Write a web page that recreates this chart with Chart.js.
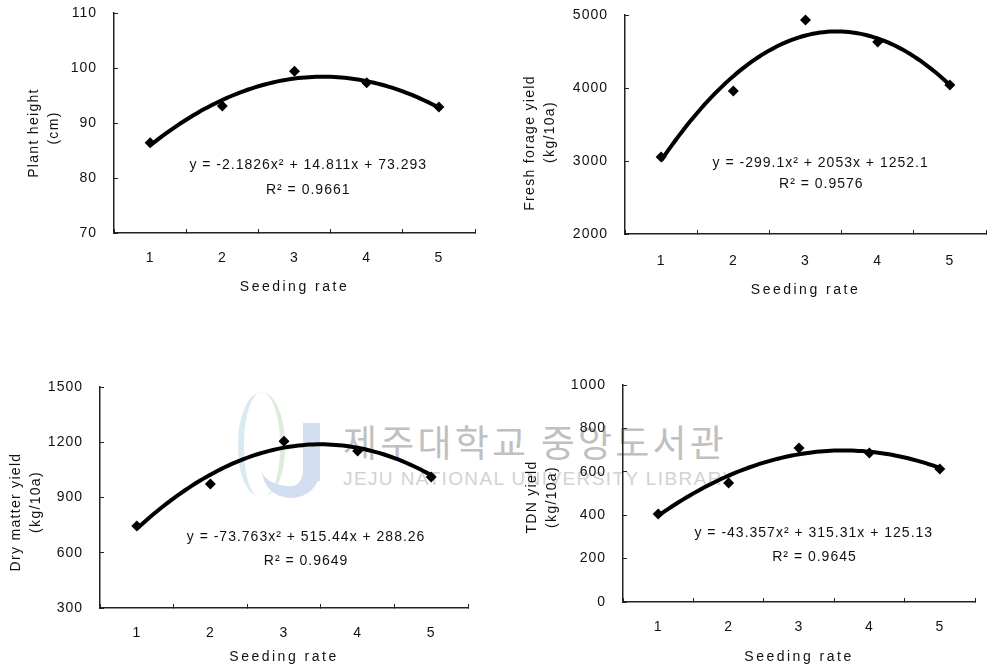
<!DOCTYPE html>
<html>
<head>
<meta charset="utf-8">
<script src="https://cdn.jsdelivr.net/npm/chart.js@4.4.0/dist/chart.umd.min.js"></script>
<style>
html,body{margin:0;padding:0;background:#fff;}
body{width:987px;height:670px;position:relative;overflow:hidden;font-family:"Liberation Sans",Arial,sans-serif;}
canvas.panel{position:absolute;}
.wm{position:absolute;white-space:nowrap;}
.logo{position:absolute;}
</style>
</head>
<body>
<div class="logo" style="left:238px;top:392px;width:36px;height:104px;border-radius:50% 50% 45% 45%;border-left:6px solid #d6e8f4;border-right:5px solid #dcebd9;opacity:0.9;"></div>
<div class="logo" style="left:303px;top:423px;width:17px;height:58px;background:#d3def0;"></div>
<div class="logo" style="left:262px;top:470px;width:58px;height:28px;border:0 solid #d3def0;border-width:0 17px 12px 0;border-radius:0 0 30px 30px;box-sizing:border-box;"></div>
<div class="wm" style="left:343px;top:423px;font-family:'Noto Sans CJK KR';font-size:37px;line-height:37px;letter-spacing:3.2px;color:#c0c0c0;">제주대학교 중앙도서관</div>
<div class="wm" style="left:343px;top:469px;font-family:'Liberation Sans';font-size:19px;line-height:19px;letter-spacing:1.4px;color:#d2d2d2;">JEJU NATIONAL UNIVERSITY LIBRARY</div>

<canvas id="c1" class="panel" width="490" height="300" style="left:0;top:0"></canvas>
<canvas id="c2" class="panel" width="506" height="300" style="left:490px;top:0"></canvas>
<canvas id="c3" class="panel" width="490" height="300" style="left:0;top:370px"></canvas>
<canvas id="c4" class="panel" width="497" height="300" style="left:490px;top:370px"></canvas>

<script>
// ---- data ----
const seedingRate = [1, 2, 3, 4, 5];
const xTickLabels = ['1', '2', '3', '4', '5'];

const plantHeight      = [86.4, 93.1, 99.4, 97.3, 92.9];
const freshForageYield = [3055, 3959, 4932, 4630, 4041];
const dryMatterYield   = [745, 973, 1206, 1152, 1011];
const tdnYield         = [405, 548, 710, 687, 613];

// quadratic trend-line coefficients shown on the chart [a, b, c] for y = ax² + bx + c
const plantHeightCoef = [-2.1826, 14.811, 73.293];
const freshForageCoef = [-299.1, 2053, 1252.1];
const dryMatterCoef   = [-73.763, 515.44, 288.26];
const tdnCoef         = [-43.357, 315.31, 125.13];

const plantHeightTicks = [70, 80, 90, 100, 110];
const freshForageTicks = [2000, 3000, 4000, 5000];
const dryMatterTicks   = [300, 600, 900, 1200, 1500];
const tdnTicks         = [0, 200, 400, 600, 800, 1000];

const plantHeightEq = ['y = -2.1826x² + 14.811x + 73.293', 'R² = 0.9661'];
const freshForageEq = ['y = -299.1x² + 2053x + 1252.1', 'R² = 0.9576'];
const dryMatterEq   = ['y = -73.763x² + 515.44x + 288.26', 'R² = 0.9649'];
const tdnEq         = ['y = -43.357x² + 315.31x + 125.13', 'R² = 0.9645'];

const xTitle = 'Seeding rate';

// ---- panels (layout) ----
const panels = [
  { id: 'c1', w: 490, h: 300, area: {l: 114, r: 475, t: 13, b: 233}, bottomPad: 3, xLabelPad: 20.6,
    values: plantHeight, coef: plantHeightCoef, ticks: plantHeightTicks, eq: plantHeightEq,
    eqPos: [[3.19, 82.4], [3.19, 77.8]],
    yTitle: [{text: 'Plant height', x: 34, y: 133}, {text: '(cm)', x: 54, y: 128}] },
  { id: 'c2', w: 506, h: 300, area: {l: 135, r: 496, t: 15, b: 234}, bottomPad: 0, xLabelPad: 22.6,
    values: freshForageYield, coef: freshForageCoef, ticks: freshForageTicks, eq: freshForageEq,
    eqPos: [[3.21, 2973], [3.22, 2685]],
    yTitle: [{text: 'Fresh forage yield', x: 40, y: 143}, {text: '(kg/10a)', x: 60, y: 132}] },
  { id: 'c3', w: 490, h: 300, area: {l: 100, r: 468, t: 17, b: 238}, bottomPad: 3, xLabelPad: 20.6,
    values: dryMatterYield, coef: dryMatterCoef, ticks: dryMatterTicks, eq: dryMatterEq,
    eqPos: [[3.3, 685], [3.3, 555]],
    yTitle: [{text: 'Dry matter yield', x: 16, y: 142}, {text: '(kg/10a)', x: 36, y: 132}] },
  { id: 'c4', w: 497, h: 300, area: {l: 133, r: 485, t: 15, b: 232}, bottomPad: 3, xLabelPad: 20.6,
    values: tdnYield, coef: tdnCoef, ticks: tdnTicks, eq: tdnEq,
    eqPos: [[3.21, 318], [3.22, 207]],
    yTitle: [{text: 'TDN yield', x: 42, y: 127}, {text: '(kg/10a)', x: 62, y: 127}] }
];

const FONT = '"Liberation Sans", Arial, sans-serif';

const textPlugin = {
  id: 'textPlugin',
  beforeDraw(chart) {
    chart.ctx.letterSpacing = '1px';
  },
  afterUpdate(chart) {
    const xs = chart.scales.x;
    if (xs && !xs._wrapped) {
      const orig = xs.drawTitle;
      xs.drawTitle = function () {
        const c = this.ctx; c.save(); c.letterSpacing = '2.5px'; orig.apply(this, arguments); c.restore();
      };
      xs._wrapped = true;
    }
  },
  afterDatasetsDraw(chart, args, opts) {
    const {ctx, scales: {x, y}} = chart;
    ctx.save();
    ctx.fillStyle = '#111';
    ctx.font = '14px ' + FONT;
    ctx.textAlign = 'center';
    ctx.textBaseline = 'middle';
    ctx.letterSpacing = '1px';
    opts.eq.forEach((t, i) => {
      ctx.fillText(t, x.getPixelForValue(opts.eqPos[i][0]), y.getPixelForValue(opts.eqPos[i][1]));
    });
    // y-axis titles (rotated)
    ctx.letterSpacing = '1.3px';
    opts.yTitle.forEach(l => {
      ctx.save();
      ctx.translate(l.x, l.y);
      ctx.rotate(-Math.PI / 2);
      ctx.fillText(l.text, 0, 0);
      ctx.restore();
    });
    ctx.restore();
  }
};

panels.forEach(p => {
  const points = seedingRate.map((x, i) => ({x, y: p.values[i]}));
  const curve = [];
  for (let k = 0; k <= 80; k++) {
    const x = 1 + k * 0.05;
    curve.push({x, y: p.coef[0] * x * x + p.coef[1] * x + p.coef[2]});
  }
  const xHeight = p.h - p.bottomPad - p.area.b;
  new Chart(document.getElementById(p.id), {
    type: 'scatter',
    data: {
      datasets: [
        { data: points, pointStyle: 'rectRot', pointRadius: 5.5, pointHoverRadius: 5.5,
          backgroundColor: '#000', borderColor: '#000', borderWidth: 0, clip: false },
        { data: curve, showLine: true, pointRadius: 0, borderColor: '#000', borderWidth: 4,
          tension: 0, clip: false }
      ]
    },
    options: {
      responsive: false,
      animation: false,
      devicePixelRatio: 1,
      events: [],
      layout: { padding: { top: p.area.t, right: p.w - p.area.r, bottom: p.bottomPad, left: 0 } },
      plugins: {
        legend: { display: false },
        tooltip: { enabled: false },
        textPlugin: { eq: p.eq, eqPos: p.eqPos, yTitle: p.yTitle }
      },
      scales: {
        x: {
          type: 'linear', min: 0.5, max: 5.5,
          afterBuildTicks: s => {
            const t = [{value: 0.5}];
            seedingRate.forEach(v => { t.push({value: v}); t.push({value: v + 0.5}); });
            s.ticks = t;
          },
          afterFit: s => { s.height = xHeight; s.paddingLeft = 0; s.paddingRight = 0; },
          ticks: {
            autoSkip: false, maxRotation: 0, padding: p.xLabelPad, color: '#111',
            font: { family: FONT, size: 14 },
            callback: v => {
              const i = seedingRate.indexOf(v);
              return i >= 0 ? xTickLabels[i] : '';
            }
          },
          grid: {
            drawOnChartArea: false, tickLength: -4, lineWidth: 1,
            color: ctx => (ctx.tick && Number.isInteger(ctx.tick.value)) ? 'rgba(0,0,0,0)' : '#222'
          },
          border: { display: true, color: '#222', width: 1.5 },
          title: { display: true, text: xTitle, color: '#111',
                   font: { family: FONT, size: 14, lineHeight: '20px' }, padding: 0 }
        },
        y: {
          type: 'linear', min: p.ticks[0], max: p.ticks[p.ticks.length - 1],
          afterBuildTicks: s => { s.ticks = p.ticks.map(v => ({value: v})); },
          afterFit: s => { s.width = p.area.l; s.paddingTop = 8; s.paddingBottom = 8; },
          ticks: { padding: 21, color: '#111', font: { family: FONT, size: 14 },
                   callback: v => String(v) },
          grid: { drawOnChartArea: false, tickLength: -4, color: '#222', lineWidth: 1 },
          border: { display: true, color: '#222', width: 1.5 },
          title: { display: false }
        }
      }
    },
    plugins: [textPlugin]
  });
});
</script>
</body>
</html>
